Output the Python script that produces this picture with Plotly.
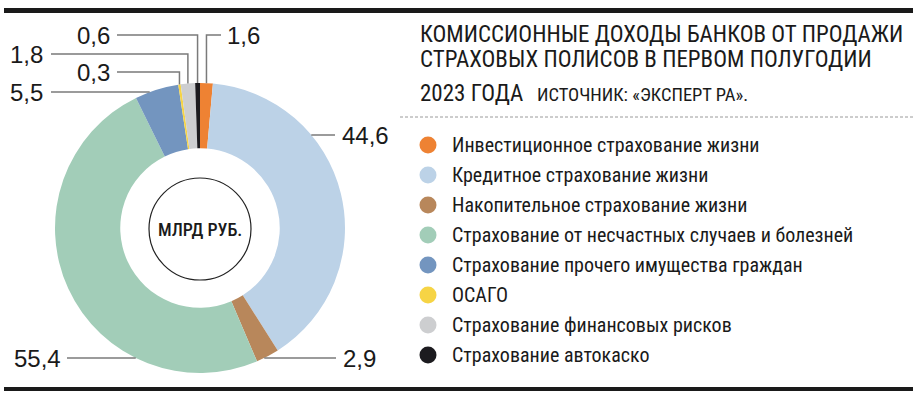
import math
import plotly.graph_objects as go

# ---------------- data ----------------
categories = [
    "Инвестиционное страхование жизни",
    "Кредитное страхование жизни",
    "Накопительное страхование жизни",
    "Страхование от несчастных случаев и болезней",
    "Страхование прочего имущества граждан",
    "ОСАГО",
    "Страхование финансовых рисков",
    "Страхование автокаско",
]
values = [1.6, 44.6, 2.9, 55.4, 5.5, 0.3, 1.8, 0.6]
value_labels = ["1,6", "44,6", "2,9", "55,4", "5,5", "0,3", "1,8", "0,6"]
colors = ["#EE8233", "#BCD2E7", "#B8875B", "#A2CDB8", "#7395BF", "#F6D445", "#CDCED0", "#1C1B1F"]

title_lines = [
    "КОМИССИОННЫЕ ДОХОДЫ БАНКОВ ОТ ПРОДАЖИ",
    "СТРАХОВЫХ ПОЛИСОВ В ПЕРВОМ ПОЛУГОДИИ",
    "2023 ГОДА",
]
source_text = "ИСТОЧНИК: «ЭКСПЕРТ РА»."
center_text = "МЛРД РУБ."

# ---------------- layout constants ----------------
W, H = 913, 398
CX, CY, R = 200, 228, 145
HOLE = 0.55
COND = "Roboto Condensed, Liberation Sans Narrow, DejaVu Sans Condensed, Arial Narrow, sans-serif"
REG = "Liberation Sans, Arial, Helvetica, sans-serif"
LINE_COL = "#7a7a7a"
TXT = "#1a1a1a"

total = sum(values)
mids = []
acc = 0.0
for v in values:
    mids.append((acc + v / 2) / total * 2 * math.pi)  # clockwise from 12 o'clock
    acc += v

fig = go.Figure()

fig.add_trace(go.Pie(
    values=values,
    labels=categories,
    marker=dict(colors=colors, line=dict(width=0)),
    hole=HOLE,
    sort=False,
    direction="clockwise",
    rotation=0,
    textinfo="none",
    hoverinfo="label+value",
    showlegend=False,
    domain=dict(x=[(CX - R) / W, (CX + R) / W], y=[(H - CY - R) / H, (H - CY + R) / H]),
))

# legend markers (manual, round)
leg_y0, leg_dy = 145, 30
leg_ys = [leg_y0 + i * leg_dy for i in range(len(categories))]
fig.add_trace(go.Scatter(
    x=[428] * len(categories), y=leg_ys, mode="markers",
    marker=dict(size=17, color=colors, line=dict(width=0)),
    hoverinfo="skip", showlegend=False, xaxis="x", yaxis="y",
))

shapes = []
annotations = []

# bars and dashed line
shapes.append(dict(type="rect", xref="x", yref="y", x0=4, x1=913, y0=8, y1=13,
                   fillcolor="#1a1a1a", line=dict(width=0), layer="above"))
shapes.append(dict(type="rect", xref="x", yref="y", x0=4, x1=913, y0=387, y1=391,
                   fillcolor="#1a1a1a", line=dict(width=0), layer="above"))
shapes.append(dict(type="line", xref="x", yref="y", x0=400, x1=913, y0=117, y1=117,
                   line=dict(color="#9a9a9a", width=1, dash="3px,2px")))

# center circle
shapes.append(dict(type="circle", xref="x", yref="y", x0=CX - 51, x1=CX + 51, y0=CY + 1 - 51, y1=CY + 1 + 51,
                   line=dict(color="#222", width=1.2), fillcolor="rgba(0,0,0,0)"))
annotations.append(dict(x=CX, y=CY + 1, xref="x", yref="y", text=center_text, showarrow=False,
                        xanchor="center", yanchor="middle",
                        font=dict(family=COND, size=18, color=TXT, weight=500)))

# value labels with leader lines
# (kind, level y, text x, anchor side, line end x)
label_spec = {
    0: ("v", 35, 225, "left", 221),
    5: ("v", 72, 112, "right", 117),
    6: ("v", 54, 45, "right", 51),
    7: ("v", 35, 112, "right", 117),
    4: ("h", 92, 45, "right", 51),
    1: ("h", 135, 340, "left", 335),
    2: ("h", 358, 341, "left", 336),
    3: ("h", 358, 63, "right", 67),
}
for i, (kind, ly, tx, side, lx) in label_spec.items():
    if kind == "v":
        xv = CX + R * math.sin(mids[i])
        ytop = CY - math.sqrt(R ** 2 - (xv - CX) ** 2)
        shapes.append(dict(type="path", xref="x", yref="y",
                           path=f"M {lx},{ly} L {xv:.2f},{ly} L {xv:.2f},{ytop:.2f}",
                           line=dict(color=LINE_COL, width=1.5)))
    else:
        dx = math.sqrt(R ** 2 - (ly - CY) ** 2)
        xe = CX + dx if side == "left" else CX - dx
        shapes.append(dict(type="line", xref="x", yref="y", x0=lx, x1=xe, y0=ly, y1=ly,
                           line=dict(color=LINE_COL, width=1.5)))
    annotations.append(dict(x=tx, y=ly, xref="x", yref="y", text=value_labels[i], showarrow=False,
                            xanchor=side, yanchor="middle",
                            font=dict(family=REG, size=24, color=TXT)))

# title
title_ys = [34, 59, 93]
for t, y in zip(title_lines, title_ys):
    annotations.append(dict(x=418, y=y, xref="x", yref="y", text=t, showarrow=False,
                            xanchor="left", yanchor="middle",
                            font=dict(family=COND, size=23, color=TXT)))
annotations.append(dict(x=535, y=95, xref="x", yref="y", text=source_text, showarrow=False,
                        xanchor="left", yanchor="middle",
                        font=dict(family=COND, size=18.5, color=TXT)))

# legend texts
for name, y in zip(categories, leg_ys):
    annotations.append(dict(x=450, y=y, xref="x", yref="y", text=name, showarrow=False,
                            xanchor="left", yanchor="middle",
                            font=dict(family=COND, size=20, color=TXT)))

fig.update_layout(
    width=W, height=H,
    margin=dict(l=0, r=0, t=0, b=0),
    paper_bgcolor="white", plot_bgcolor="rgba(0,0,0,0)",
    xaxis=dict(range=[0, W], visible=False, fixedrange=True, domain=[0, 1]),
    yaxis=dict(range=[H, 0], visible=False, fixedrange=True, domain=[0, 1]),
    shapes=shapes,
    annotations=annotations,
    showlegend=False,
)

fig.write_html("out.html", config={"displayModeBar": False},
               post_script="document.body.style.margin='0';document.body.style.overflow='hidden';")
